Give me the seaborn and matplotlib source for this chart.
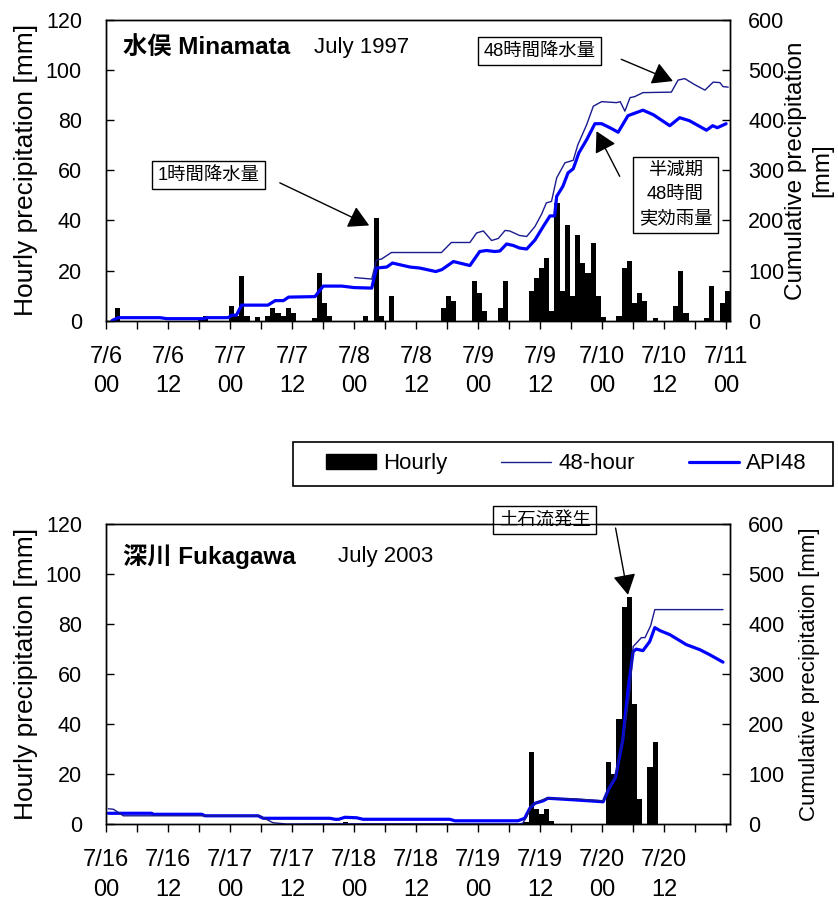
import numpy as np
import pandas as pd
import matplotlib
matplotlib.use("Agg")
import matplotlib.pyplot as plt
import seaborn as sns
from matplotlib.patches import Patch, Rectangle
from matplotlib.lines import Line2D

# ---------------- data ----------------
hours = list(range(121))  # hourly categories, 0 .. 120

# Minamata, July 1997 (hour 0 = 7/6 00)
mina_rain_hour = [2, 18, 19, 24, 25, 26, 27, 29, 31, 32, 33, 34, 35, 36, 40, 41, 42, 43,
                  50, 52, 53, 55, 65, 66, 67, 71, 72, 73, 76, 77,
                  82, 83, 84, 85, 86, 87, 88, 89, 90, 91, 92, 93, 94, 95, 96,
                  99, 100, 101, 102, 103, 104, 106, 110, 111, 112, 116, 117, 119, 120]
mina_rain_mm = [5, 1, 2, 6, 2, 18, 2, 1.5, 2, 5, 3, 2, 5, 3, 1, 19, 7, 2,
                2, 41, 2, 10, 5, 10, 8, 16, 11, 4, 5, 16,
                12, 17, 21, 25, 4, 47, 12, 38, 10, 34, 23, 19, 31, 10, 1.5,
                2, 21, 24, 7, 11, 8, 1, 6, 20, 3, 1, 14, 7, 12]

mina_48h_x = [48.1, 51.4, 52.3, 53.3, 55.2, 64.9, 66.8, 70.4, 71.7, 73.0, 74.6, 75.9,
              77.2, 78.1, 80.0, 81.4, 83.0, 84.3, 85.2, 86.2, 87.2, 88.8, 90.4, 91.3,
              93.0, 94.3, 95.9, 98.8, 99.5, 100.4, 101.4, 102.3, 103.9, 109.4, 110.7,
              112.0, 113.9, 115.9, 117.5, 118.8, 119.4, 120.4]
mina_48h_v = [86, 83, 121, 123, 136, 136, 156, 156, 175, 179, 160, 164,
              180, 179, 170, 168, 188, 213, 235, 238, 285, 315, 320, 351,
              391, 428, 437, 435, 437, 418, 445, 447, 455, 456, 480,
              483, 471, 460, 476, 475, 467, 466]

mina_api_x = [1.1, 2.3, 10.4, 11.7, 18.8, 19.5, 23.6, 24.3, 25.2, 26.2, 31.3, 32.7,
              34.3, 35.3, 40.4, 42.0, 45.6, 48.0, 51.4, 52.3, 54.3, 55.4, 58.8, 60.7,
              63.8, 65.0, 67.2, 70.4, 72.3, 73.6, 75.2, 76.2, 77.5, 78.8, 80.0, 81.4,
              83.0, 84.6, 85.9, 86.8, 87.2, 88.4, 89.4, 90.4, 91.5, 93.0, 94.6, 95.9,
              97.5, 99.1, 101.0, 103.9, 105.9, 109.1, 111.0, 112.9, 116.2, 117.4,
              118.3, 120.0]
mina_api_v = [0, 6, 6, 4, 4, 6, 6, 11, 11, 31, 31, 40,
              40, 47, 48, 69, 69, 66, 65, 105, 107, 115, 107, 105,
              98, 102, 118, 110, 138, 140, 138, 139, 153, 150, 145, 143,
              161, 188, 209, 209, 248, 268, 295, 303, 335, 361, 393, 393,
              385, 376, 409, 420, 411, 389, 405, 399, 380, 389,
              385, 393]

# Fukagawa, July 2003 (hour 0 = 7/16 00)
fuka_rain_hour = [46, 81, 82, 83, 84, 85, 86, 97, 98, 99, 100, 101, 102, 103, 105, 106]
fuka_rain_mm = [1, 1, 29, 6, 4, 6, 1.5, 25, 20, 42, 87, 91, 48, 10, 23, 33]

fuka_48h_x = [0.4, 1.4, 3.3, 29.7, 31.0, 32.3, 34.9, 46.0, 80.0, 80.6, 81.4, 82.3,
              83.6, 85.2, 90.4, 96.2, 96.8, 98.5, 100.0, 101.4, 102.0, 103.6, 104.3,
              105.4, 106.2, 119.4]
fuka_48h_v = [31, 30, 17, 17, 10, 3, 0.6, 1, 1, 2, 15, 37,
              45, 52, 51, 47, 62, 94, 169, 269, 355, 373, 373,
              397, 429, 429]

fuka_api_x = [0.4, 8.8, 9.1, 18.5, 19.1, 29.4, 30.4, 43.3, 44.3, 45.0, 46.2, 48.5,
              49.7, 66.5, 67.5, 79.7, 81.0, 82.0, 83.0, 84.6, 85.5, 90.4, 96.2, 97.2,
              98.6, 100.0, 101.0, 102.0, 102.6, 103.9, 105.2, 106.2, 107.2, 109.1,
              112.3, 114.9, 116.8, 119.4]
fuka_api_v = [22, 22, 20, 20, 17, 17, 12, 12, 10, 10, 14, 13,
              10, 10, 7, 7, 12, 32, 42, 47, 52, 49, 45, 69,
              94, 169, 269, 345, 350, 347, 365, 393, 387, 379,
              359, 349, 339, 324]

mina_days = ["7/6", "7/6", "7/7", "7/7", "7/8", "7/8", "7/9", "7/9", "7/10", "7/10", "7/11"]
fuka_days = ["7/16", "7/16", "7/17", "7/17", "7/18", "7/18", "7/19", "7/19", "7/20", "7/20", ""]
clock = ["00", "12"]

# ---------------- style ----------------
sns.set_style("ticks")
FAM = ["Liberation Sans", "Noto Sans CJK JP", "DejaVu Sans"]
plt.rcParams["font.family"] = FAM
plt.rcParams["axes.unicode_minus"] = False
plt.rcParams["text.color"] = "black"
plt.rcParams["axes.labelcolor"] = "black"
plt.rcParams["xtick.color"] = "black"
plt.rcParams["ytick.color"] = "black"
plt.rcParams["xtick.labelcolor"] = "black"
plt.rcParams["ytick.labelcolor"] = "black"

THIN = "#1a1a8f"
BLUE = "#0000ff"
BAR_SHIFT = 0.25

fig = plt.figure(figsize=(8.38, 8.99), dpi=100)
ax_top = fig.add_axes([0.1268, 0.6433, 0.7443, 0.3345])
ax_bot = fig.add_axes([0.1268, 0.0831, 0.7443, 0.3340])


def full_series(idx, vals):
    arr = np.zeros(len(hours))
    arr[np.array(idx)] = vals
    return arr


def draw_panel(ax, rain_idx, rain_mm, x48, v48, xapi, vapi, days,
               right_label, rlab_x, rlab_fs, rlab_ls):
    df = pd.DataFrame({"hour": np.array(hours, dtype=float) + BAR_SHIFT,
                       "mm": full_series(rain_idx, rain_mm)})
    sns.barplot(data=df, x="hour", y="mm", native_scale=True, width=1.0,
                color="black", saturation=1, linewidth=0, errorbar=None, ax=ax)
    ax.set_xlim(0, 120.75)
    ax.set_ylim(0, 120)
    ax.set_yticks(range(0, 121, 20))
    ticks = list(range(0, 121, 6))
    labels = []
    for t in ticks:
        if t % 12 == 0:
            d = days[t // 12]
            labels.append(f"{d}\n{clock[(t // 12) % 2]}" if d else "")
        else:
            labels.append("")
    ax.set_xticks(ticks)
    ax.set_xticklabels(labels, fontsize=17, linespacing=1.43, color="black")
    ax.tick_params(axis="x", direction="out", length=6, width=1, pad=12,
                   colors="black")
    ax.tick_params(axis="y", direction="in", length=6, width=1, pad=17.5,
                   labelsize=15.5, colors="black")
    ax.set_xlabel("")
    ax.set_ylabel("Hourly precipitation [mm]", fontsize=19, color="black")
    ax.yaxis.set_label_coords(-0.1095, 0.5)
    for s in ax.spines.values():
        s.set_color("black")
        s.set_linewidth(1)

    ax2 = ax.twinx()
    sns.lineplot(x=xapi, y=vapi, color=BLUE, linewidth=2.3, ax=ax2,
                 estimator=None, sort=False)
    sns.lineplot(x=x48, y=v48, color=THIN, linewidth=1.0, ax=ax2,
                 estimator=None, sort=False)
    ax2.set_xlim(0, 120.75)
    ax2.set_ylim(0, 600)
    ax2.set_yticks(range(0, 601, 100))
    ax2.tick_params(axis="y", direction="in", length=6, width=1, pad=13,
                    labelsize=15.5, colors="black")
    ax2.set_ylabel(right_label, fontsize=rlab_fs, rotation=90, linespacing=rlab_ls,
                   color="black")
    ax2.yaxis.set_label_coords(rlab_x, 0.5)
    for s in ax2.spines.values():
        s.set_color("black")
        s.set_linewidth(1)
    return ax2


draw_panel(ax_top, mina_rain_hour, mina_rain_mm, mina_48h_x, mina_48h_v,
           mina_api_x, mina_api_v, mina_days,
           "Cumulative precipitation\n[mm]", 1.088, 17.5, 1.24)
draw_panel(ax_bot, fuka_rain_hour, fuka_rain_mm, fuka_48h_x, fuka_48h_v,
           fuka_api_x, fuka_api_v, fuka_days,
           "Cumulative precipitation [mm]", 1.11, 16, 1.2)

# ---------------- titles ----------------
ax_top.text(0.027, 0.907, "水俣 Minamata", transform=ax_top.transAxes, fontsize=17.5,
            fontweight="bold", va="center", ha="left", family=FAM, color="black",
            zorder=10)
ax_top.text(0.333, 0.907, "July 1997", transform=ax_top.transAxes, fontsize=16,
            va="center", ha="left", family=FAM, color="black", zorder=10)
ax_bot.text(0.027, 0.893, "深川 Fukagawa", transform=ax_bot.transAxes, fontsize=17.5,
            fontweight="bold", va="center", ha="left", family=FAM, color="black",
            zorder=10)
ax_bot.text(0.372, 0.893, "July 2003", transform=ax_bot.transAxes, fontsize=16,
            va="center", ha="left", family=FAM, color="black", zorder=10)

# ---------------- annotations ----------------
ARROW = dict(arrowstyle="-|>,head_length=0.9,head_width=0.5", color="black",
             lw=1, mutation_scale=14, shrinkA=0, shrinkB=0)
BOX = dict(boxstyle="square,pad=0.3", fc="white", ec="black", lw=1)


def callout(ax, text, box_xy, start, tip, fs=13.2, ls=1.2):
    ax.annotate("", xy=tip, xytext=start, xycoords="data", textcoords="data",
                arrowprops=ARROW, annotation_clip=False, zorder=20)
    ax.text(box_xy[0], box_xy[1], text, ha="center", va="center", fontsize=fs,
            bbox=BOX, family=FAM, linespacing=ls, multialignment="center",
            color="black", zorder=21, clip_on=False)


callout(ax_top, "1時間降水量", (19.8, 58.0), (33.6, 55.0), (50.9, 38.0))
callout(ax_top, "48時間降水量", (83.9, 107.6), (99.7, 104.3), (109.7, 95.6))
callout(ax_top, "半減期\n48時間\n実効雨量", (110.2, 50.2), (99.4, 57.6), (94.9, 75.6), ls=1.55)
callout(ax_bot, "土石流発生", (84.9, 121.7), (98.6, 118.4), (101.0, 91.7))

# ---------------- legend ----------------
handles = [Patch(facecolor="black", edgecolor="black"),
           Line2D([], [], color=THIN, lw=1.0),
           Line2D([], [], color=BLUE, lw=2.3)]
leg = fig.legend(handles, ["Hourly", "48-hour", "API48"], loc="center",
                 bbox_to_anchor=(0.6754, 0.4839), ncol=3, frameon=False,
                 fontsize=16, handlelength=2.25, columnspacing=2.43,
                 handletextpad=0.32, borderpad=0.2, labelcolor="black")
fig.patches.append(Rectangle((293 / 838, 1 - 486 / 899), 540 / 838, 44 / 899,
                             transform=fig.transFigure, fill=False, ec="black",
                             lw=1.2, zorder=5))

fig.savefig("out.png", dpi=100)
